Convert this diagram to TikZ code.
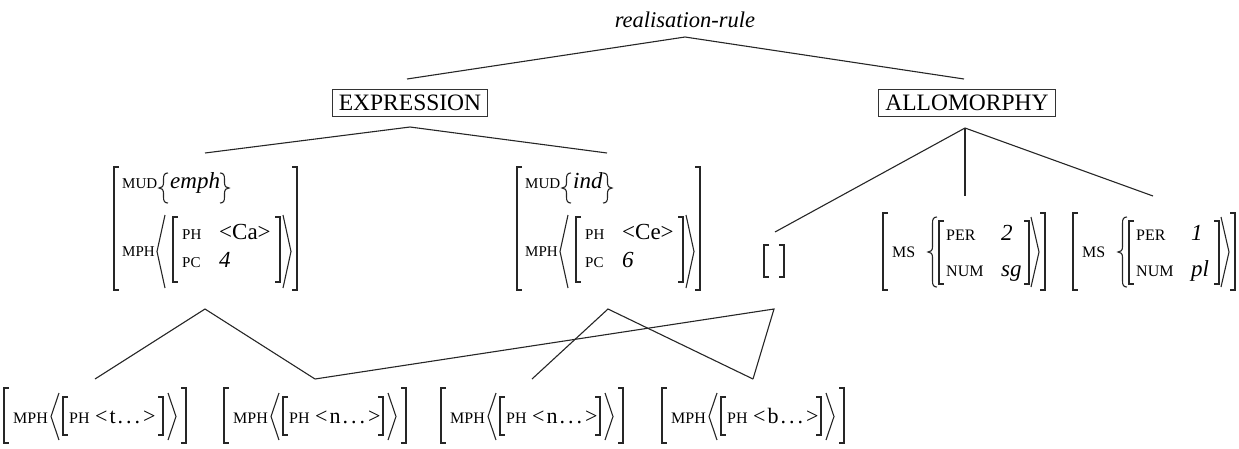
\documentclass[tikz,border=0pt]{standalone}
\usepackage{fontspec}
\setmainfont{Liberation Serif}

\tikzset{
  treeline/.style={line width=1.1pt, draw=black!85},
  brk/.style={line width=1.3pt, draw=black!85},
  ang/.style={line width=1.1pt, draw=black!85, line join=miter},
  brc/.style={line width=1.1pt, draw=black!85},
  boxlabel/.style={draw=black!80, line width=0.9pt, inner xsep=6.5pt, inner ysep=5.75pt,
    font=\fontsize{23.5}{26}\selectfont, text height=15.5pt, text depth=0pt},
  toplabel/.style={inner sep=0pt, font=\fontsize{22.5}{25}\selectfont\itshape},
  avmbox/.style={inner sep=0pt, draw=none},
  ftop/.style={inner sep=0pt, anchor=base west, font=\fontsize{15}{15}\selectfont},
  fms/.style={inner sep=0pt, anchor=base west, font=\fontsize{16}{16}\selectfont},
  fbot/.style={inner sep=0pt, anchor=base west, font=\fontsize{16}{16}\selectfont},
  val/.style={inner sep=0pt, anchor=base west, font=\fontsize{23}{23}\selectfont},
  vali/.style={inner sep=0pt, anchor=base west, font=\fontsize{23}{23}\selectfont\itshape},
  valb/.style={inner sep=0pt, anchor=base west, font=\fontsize{22}{22}\selectfont},
}

% square brackets: x of stem, top y, bottom y
\newcommand{\lsq}[3]{\draw[brk] (#1+5,#2) -- (#1,#2) -- (#1,#3) -- (#1+5,#3);}
\newcommand{\rsq}[3]{\draw[brk] (#1-5,#2) -- (#1,#2) -- (#1,#3) -- (#1-5,#3);}
% angle brackets: x of tip
\newcommand{\lang}[3]{\draw[ang] (#1+8,#2) -- (#1,{(#2+#3)/2}) -- (#1+8,#3);}
\newcommand{\rang}[3]{\draw[ang] (#1-8,#2) -- (#1,{(#2+#3)/2}) -- (#1-8,#3);}
% curly braces: x of tip
\newcommand{\lbr}[3]{\draw[brc] (#1+9,#2) .. controls (#1+5.5,#2) and (#1+4.5,#2+2) .. (#1+4.5,#2+6)
  -- (#1+4.5,{(#2+#3)/2-5}) .. controls (#1+4.5,{(#2+#3)/2-1.5}) and (#1+2.5,{(#2+#3)/2}) .. (#1,{(#2+#3)/2})
  .. controls (#1+2.5,{(#2+#3)/2}) and (#1+4.5,{(#2+#3)/2+1.5}) .. (#1+4.5,{(#2+#3)/2+5})
  -- (#1+4.5,#3-6) .. controls (#1+4.5,#3-2) and (#1+5.5,#3) .. (#1+9,#3);}
\newcommand{\rbr}[3]{\draw[brc] (#1-9,#2) .. controls (#1-5.5,#2) and (#1-4.5,#2+2) .. (#1-4.5,#2+6)
  -- (#1-4.5,{(#2+#3)/2-5}) .. controls (#1-4.5,{(#2+#3)/2-1.5}) and (#1-2.5,{(#2+#3)/2}) .. (#1,{(#2+#3)/2})
  .. controls (#1-2.5,{(#2+#3)/2}) and (#1-4.5,{(#2+#3)/2+1.5}) .. (#1-4.5,{(#2+#3)/2+5})
  -- (#1-4.5,#3-6) .. controls (#1-4.5,#3-2) and (#1-5.5,#3) .. (#1-9,#3);}

% top AVM: name, x0, MUD value, right-brace tip offset, PH value, PC value
\newcommand{\topavm}[6]{%
  \node[avmbox, minimum width=183pt, minimum height=123pt] (#1) at (#2+91.5,228.5) {};
  \lsq{#2}{167}{290}\rsq{#2+183}{167}{290}
  \node[ftop] (#1-mud) at (#2+8,188) {MUD};
  \lbr{#2+45}{173}{203}
  \node[vali] (#1-v1) at (#2+56,188) {#3};
  \rbr{#2+#4}{173}{203}
  \node[ftop] (#1-mph) at (#2+8,256) {MPH};
  \lang{#2+43}{215}{288}
  \lsq{#2+59}{217}{282}
  \node[ftop] (#1-ph) at (#2+68,239) {PH};
  \node[val] (#1-v2) at (#2+105,239) {#5};
  \node[ftop] (#1-pc) at (#2+68,267) {PC};
  \node[vali] (#1-v3) at (#2+105,267) {#6};
  \rsq{#2+166}{217}{282}
  \rang{#2+177}{215}{288}
}
% MS AVM: name, x0, PER value, NUM value
\newcommand{\msavm}[4]{%
  \node[avmbox, minimum width=162pt, minimum height=77pt] (#1) at (#2+81,251.5) {};
  \lsq{#2}{213}{290}\rsq{#2+162}{213}{290}
  \node[fms] (#1-ms) at (#2+9,257) {MS};
  \lbr{#2+45}{217}{287}
  \lsq{#2+56}{221}{284}
  \node[fms] (#1-per) at (#2+63,240) {PER};
  \node[vali] (#1-v1) at (#2+118,240) {#3};
  \node[fms] (#1-num) at (#2+63,276) {NUM};
  \node[vali] (#1-v2) at (#2+118,276) {#4};
  \rsq{#2+146}{221}{284}
  \rang{#2+156}{217}{287}
}
% bottom AVM: name, x0, PH value
\newcommand{\botavm}[3]{%
  \node[avmbox, minimum width=182pt, minimum height=55pt] (#1) at (#2+91,415.5) {};
  \lsq{#2}{388}{443}\rsq{#2+182}{388}{443}
  \node[fbot] (#1-mph) at (#2+9,423) {MPH};
  \lang{#2+47}{393}{440}
  \lsq{#2+59}{397}{435}
  \node[fbot] (#1-ph) at (#2+65,423) {PH};
  \node[valb] (#1-v) at (#2+91,423) {#3};
  \rsq{#2+159}{397}{435}
  \rang{#2+172}{393}{440}
}
\newcommand{\phval}[1]{<\kern2pt#1\kern2pt.\kern3pt.\kern3pt.\kern3pt>}

\begin{document}
\begin{tikzpicture}[x=1pt,y=-1pt]
\useasboundingbox (0,0) rectangle (1239,448);

% labels
\node[toplabel] (rr) at (685,20) {realisation-rule};
\node[boxlabel] (expr) at (410,102.5) {EXPRESSION};
\node[boxlabel] (allo) at (967,102.5) {ALLOMORPHY};

% AVMs
\topavm{L}{114}{emph}{115}{<Ca>}{4}
\topavm{M}{517}{ind}{95}{<Ce>}{6}
\node[avmbox, minimum width=22pt, minimum height=32pt] (E) at (774,261) {};
\lsq{764}{245}{277}\rsq{784}{245}{277}
\msavm{S1}{883}{2}{sg}
\msavm{S2}{1073}{1}{pl}
\botavm{B1}{4}{\phval{t}}
\botavm{B2}{224}{\phval{n}}
\botavm{B3}{441}{\phval{n}}
\botavm{B4}{662}{\phval{b}}

% attachment points
\coordinate (rr-dn) at (685,37);
\coordinate (expr-up) at (407,79);
\coordinate (allo-up) at (964,79);
\coordinate (expr-dn) at (410,127);
\coordinate (allo-dn) at (965,128);
\coordinate (L-up) at (205,153);
\coordinate (M-up) at (607,153);
\coordinate (E-up) at (775,232);
\coordinate (S1-up) at (965,196);
\coordinate (S2-up) at (1153,196);
\coordinate (L-dn) at (205,309);
\coordinate (M-dn) at (608,309);
\coordinate (E-dn) at (774,309);
\coordinate (B1-up) at (95,379);
\coordinate (B2-up) at (315,379);
\coordinate (B3-up) at (532,379);
\coordinate (B4-up) at (753,379);

% connectors
\draw[treeline] (expr-up) -- (rr-dn) -- (allo-up);
\draw[treeline] (L-up) -- (expr-dn) -- (M-up);
\draw[treeline] (E-up) -- (allo-dn) -- (S2-up);
\draw[treeline] (allo-dn) -- (S1-up);
\draw[treeline] (B1-up) -- (L-dn) -- (B2-up);
\draw[treeline] (B3-up) -- (M-dn) -- (B4-up);
\draw[treeline] (B2-up) -- (E-dn) -- (B4-up);
\end{tikzpicture}
\end{document}
